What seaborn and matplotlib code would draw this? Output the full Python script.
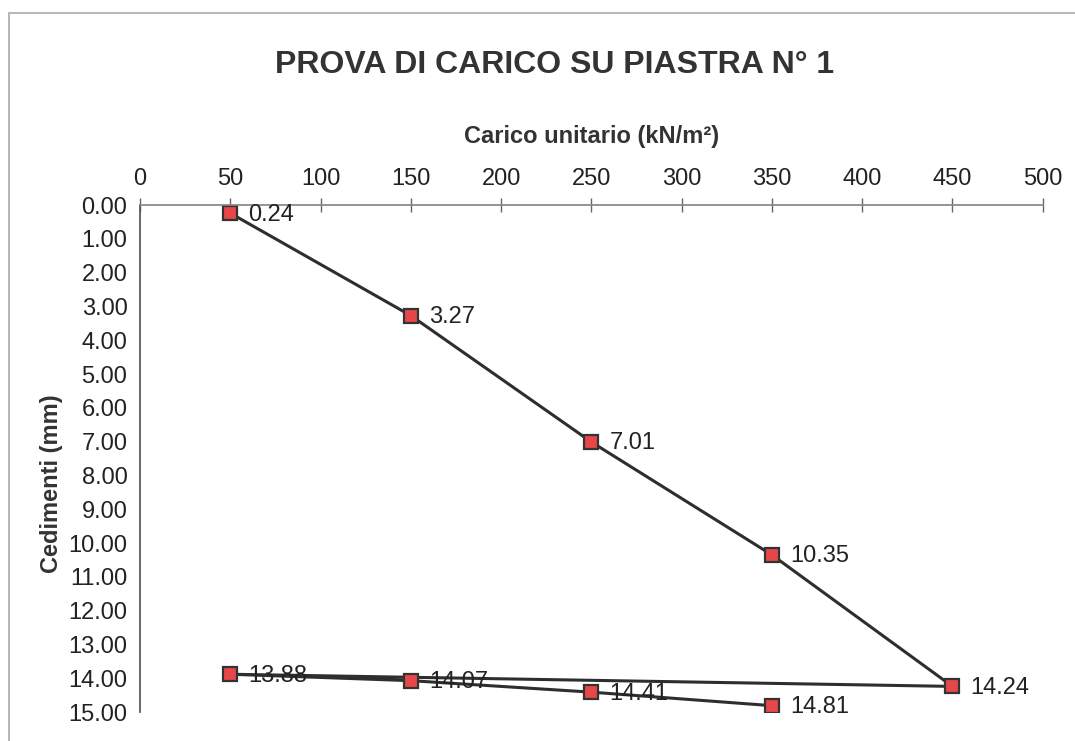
import numpy as np
import pandas as pd
import matplotlib
matplotlib.use("Agg")
import matplotlib.pyplot as plt
import seaborn as sns

# Plate load test readings, in test order (load, unload, reload)
carico = [50, 150, 250, 350, 450, 50, 150, 250, 350]
cedimenti = [0.24, 3.27, 7.01, 10.35, 14.24, 13.88, 14.07, 14.41, 14.81]
x_ticks = [0, 50, 100, 150, 200, 250, 300, 350, 400, 450, 500]
y_ticks = list(range(0, 16))

sns.set_theme(style="white")
plt.rcParams['font.family'] = ['Liberation Sans', 'DejaVu Sans']

df = pd.DataFrame({'carico': carico, 'cedimento': cedimenti})

fig = plt.figure(figsize=(10.75, 7.41), dpi=100)
ax = fig.add_axes([0.1302, 0.039, 0.8398, 0.6843])

sns.lineplot(data=df, x='carico', y='cedimento', sort=False, estimator=None,
             color='#2e2e2e', linewidth=2.2, marker='s', markersize=10,
             markerfacecolor='#e8474a', markeredgecolor='#333333',
             markeredgewidth=1.6, ax=ax)

for xv, yv in zip(carico, cedimenti):
    ax.annotate(f'{yv:.2f}', (xv, yv), xytext=(13, -1), textcoords='offset points',
                ha='left', va='center', fontsize=17, color='#222222')

ax.set_xlim(0, 500)
ax.set_ylim(15, 0)
ax.set_xticks(x_ticks)
ax.set_yticks(y_ticks)
ax.set_yticklabels([f'{v:.2f}' for v in y_ticks])
ax.xaxis.tick_top()
ax.xaxis.set_label_position('top')

for side in ['right', 'bottom']:
    ax.spines[side].set_visible(False)
ax.spines['left'].set_color('#555555')
ax.spines['top'].set_color('#888888')
ax.tick_params(axis='both', direction='inout', length=10, width=1,
               color='#666666', labelsize=17, labelcolor='#222222')
ax.tick_params(axis='x', pad=6)
ax.tick_params(axis='y', pad=4)

ax.set_xlabel('Carico unitario (kN/m²)', fontsize=17, fontweight='bold',
              color='#333333', labelpad=18)
ax.set_ylabel('Cedimenti (mm)', fontsize=17, fontweight='bold', color='#333333')
# label sits over the tick labels, as in the original sheet
ax.yaxis.set_label_coords(-0.085, 0.45)

fig.text(0.516, 0.912, 'PROVA DI CARICO SU PIASTRA N° 1', ha='center', va='center',
         fontsize=23, fontweight='bold', color='#333333')

# outer chart-area frame
frame = plt.Rectangle((0.008, -0.01), 1.2, 0.993, transform=fig.transFigure,
                      fill=False, edgecolor='#aaaaaa', linewidth=1.2)
fig.patches.append(frame)

fig.savefig('out.png', dpi=100)
